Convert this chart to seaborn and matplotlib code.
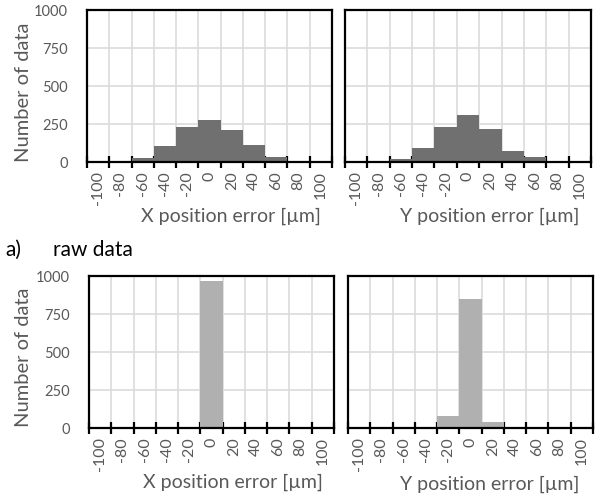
import matplotlib
matplotlib.use('Agg')
import matplotlib.pyplot as plt
import seaborn as sns
import numpy as np

categories = ['-100', '-80', '-60', '-40', '-20', '0', '20', '40', '60', '80', '100']
raw_x_counts = [0, 0, 25, 105, 230, 275, 208, 110, 32, 0, 0]
raw_y_counts = [0, 0, 18, 95, 232, 312, 216, 73, 30, 0, 0]
proc_x_counts = [0, 0, 0, 0, 0, 967, 0, 0, 0, 0, 0]
proc_y_counts = [0, 0, 0, 0, 77, 847, 42, 0, 0, 0, 0]
y_ticks = [0, 250, 500, 750, 1000]
x_titles = ['X position error [µm]', 'Y position error [µm]']
y_title = 'Number of data'
caption = ['a)', 'raw data']

sns.set_theme(style='white')
plt.rcParams['font.family'] = ['Lato', 'DejaVu Sans']

W, H = 605, 502
fig = plt.figure(figsize=(W / 100, H / 100), dpi=100)

def rect(l, t, r, b):
    return [l / W, 1 - b / H, (r - l) / W, (b - t) / H]

panels = [
    (rect(87, 11, 332, 163), raw_x_counts, '#707070', True),
    (rect(345, 11, 591, 163), raw_y_counts, '#707070', False),
    (rect(89, 277, 334, 429), proc_x_counts, '#b0b0b0', True),
    (rect(348, 277, 593, 429), proc_y_counts, '#b0b0b0', False),
]

gray = '#595959'
for pos, vals, col, left in panels:
    ax = fig.add_axes(pos)
    sns.barplot(x=categories, y=vals, order=categories, color=col, saturation=1,
                width=1.0, edgecolor='none', ax=ax, zorder=2)
    ax.set_xlim(-0.5, len(categories) - 0.5)
    ax.set_ylim(0, 1000)
    ax.set_axisbelow(True)
    ax.set_xticks(np.arange(len(categories)))
    ax.set_xticklabels(categories, rotation=90, ha='center', va='top', color=gray, fontsize=11.5)
    ax.set_xticks(np.arange(len(categories) + 1) - 0.5, minor=True)
    ax.tick_params(axis='x', which='major', length=0, pad=6)
    ax.tick_params(axis='x', which='minor', direction='inout', length=9, width=1.6, color='black', bottom=True)
    ax.set_yticks(y_ticks)
    if left:
        ax.set_yticklabels([str(v) for v in y_ticks], color=gray, fontsize=10.5)
    else:
        ax.set_yticklabels([])
    ax.tick_params(axis='y', length=0, pad=14)
    ax.grid(True, axis='x', which='minor', color='#dcdcdc', linewidth=1.2)
    ax.grid(True, axis='y', which='major', color='#dcdcdc', linewidth=1.2)
    ax.grid(False, axis='x', which='major')
    for s in ax.spines.values():
        s.set_visible(True)
        s.set_color('black')
        s.set_linewidth(1.6)
    ax.set_xlabel('')
    ax.set_ylabel('')

# axis titles
fig.text(231 / W, 1 - 216 / H, x_titles[0], ha='center', va='center', color=gray, fontsize=14)
fig.text(490 / W, 1 - 216 / H, x_titles[1], ha='center', va='center', color=gray, fontsize=14)
fig.text(233 / W, 1 - 482 / H, x_titles[0], ha='center', va='center', color=gray, fontsize=14)
fig.text(490 / W, 1 - 484 / H, x_titles[1], ha='center', va='center', color=gray, fontsize=14)
fig.text(24 / W, 1 - 92 / H, y_title, rotation=90, ha='center', va='center', color=gray, fontsize=14.5)
fig.text(24 / W, 1 - 357 / H, y_title, rotation=90, ha='center', va='center', color=gray, fontsize=14.5)

fig.text(5 / W, 1 - 250 / H, caption[0], ha='left', va='center', color='black', fontsize=15)
fig.text(53 / W, 1 - 250 / H, caption[1], ha='left', va='center', color='black', fontsize=15)

fig.savefig('out.png', dpi=100, facecolor='white')
